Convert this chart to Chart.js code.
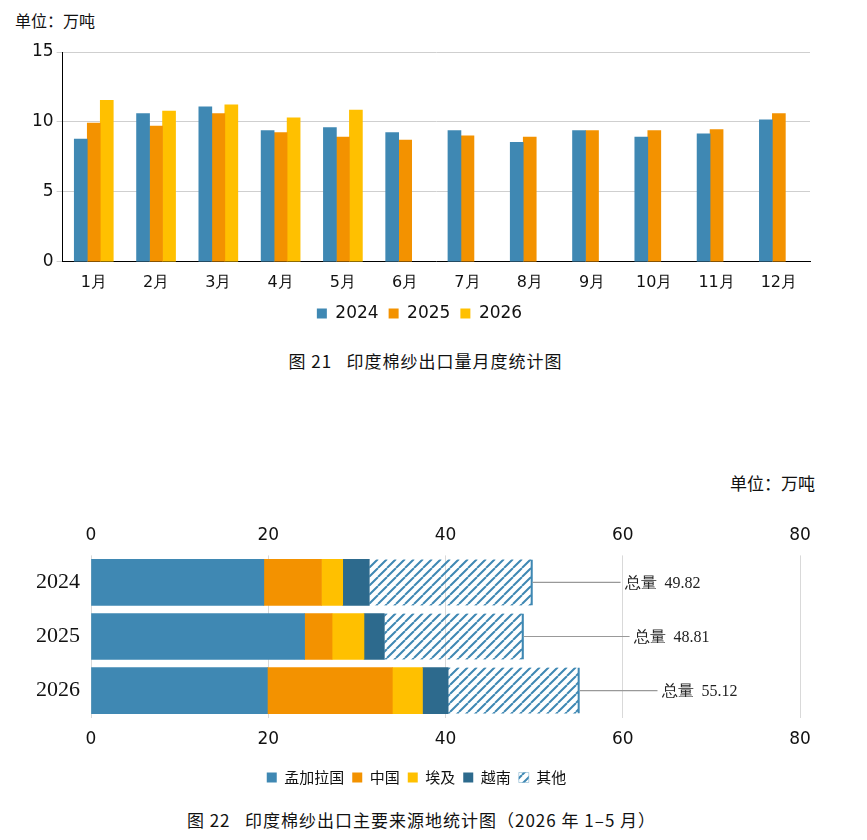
<!DOCTYPE html>
<html><head><meta charset="utf-8">
<script src="https://cdn.jsdelivr.net/npm/chart.js@4/dist/chart.umd.min.js"></script>
<style>
body{margin:0;background:#fff;width:867px;height:840px;position:relative;font-family:"Noto Sans CJK SC","Noto Sans",sans-serif;color:#111}
.abs{position:absolute}
.cap{font-size:17px;letter-spacing:1px;width:867px;text-align:center}
</style></head><body>
<div class="abs" style="left:15px;top:8px;font-size:16px">单位：万吨</div>
<div class="abs" style="left:0;top:20px;width:840px;height:312px"><canvas id="c1"></canvas></div>
<div class="abs cap" style="left:-8px;top:348px">图 21&nbsp;&nbsp;&nbsp;印度棉纱出口量月度统计图</div>
<div class="abs" style="left:730px;top:470px;font-size:17px">单位：万吨</div>
<div class="abs" style="left:0;top:505px;width:840px;height:290px"><canvas id="c2"></canvas></div>
<div class="abs cap" style="left:-12px;top:807px">图 22&nbsp;&nbsp;&nbsp;印度棉纱出口主要来源地统计图（2026 年 1–5 月）</div>
<script>
// monthly exports, 万吨
const months = ['1月','2月','3月','4月','5月','6月','7月','8月','9月','10月','11月','12月'];
const y2024 = [8.77,10.6,11.08,9.38,9.6,9.23,9.38,8.54,9.38,8.92,9.15,10.15];
const y2025 = [9.92,9.7,10.6,9.23,8.92,8.7,9.0,8.92,9.38,9.38,9.46,10.6];
const y2026 = [11.54,10.77,11.23,10.3,10.85,null,null,null,null,null,null,null];

// sources by year
const years = ['2024','2025','2026'];
const bangladesh = [19.5,24.1,19.9];
const china = [6.5,3.1,14.1];
const egypt = [2.4,3.6,3.4];
const vietnam = [3.0,2.3,2.9];
const totals = [49.82,48.81,55.12];
const others = totals.map((t,i)=>+(t-bangladesh[i]-china[i]-egypt[i]-vietnam[i]).toFixed(2));

const BLUE='#3F88B3', ORANGE='#F39200', YELLOW='#FFC000', DARK='#2D6A8D';
const sans = "'DejaVu Sans', sans-serif";

new Chart(document.getElementById('c1'),{
  type:'bar',
  data:{labels:months,datasets:[
    {label:'2024',data:y2024,backgroundColor:BLUE},
    {label:'2025',data:y2025,backgroundColor:ORANGE},
    {label:'2026',data:y2026,backgroundColor:YELLOW}
  ]},
  options:{
    maintainAspectRatio:false,responsive:true,animation:false,
    layout:{padding:{left:29,right:30,top:32}},
    datasets:{bar:{barThickness:13,categoryPercentage:0.8,barPercentage:1}},
    plugins:{legend:{position:'bottom',labels:{boxWidth:10,boxHeight:10,padding:10,color:'#111',font:{family:sans,size:17}}},tooltip:{enabled:false}},
    scales:{
      x:{grid:{display:false,drawTicks:true},border:{color:'#000'},ticks:{color:'#111',font:{family:sans,size:16}}},
      y:{min:0,max:15,ticks:{stepSize:5,color:'#111',font:{family:sans,size:17}},grid:{color:'#cfcfcf',drawTicks:true,tickLength:6},border:{color:'#000'}}
    }
  }
});

const tile=document.createElement('canvas');tile.width=tile.height=9;
const pc=tile.getContext('2d');
pc.strokeStyle=BLUE;pc.lineWidth=2;
pc.beginPath();
for(let k=-9;k<=18;k+=9){pc.moveTo(k,9);pc.lineTo(k+9,0);}
pc.stroke();
const hatch=pc.createPattern(tile,'repeat');

const totalLabels={id:'totalLabels',afterDatasetsDraw(ch){
  const c=ch.ctx,xs=ch.scales.x,meta=ch.getDatasetMeta(0);
  c.save();c.font="16px 'Liberation Serif', serif";c.fillStyle='#222';c.strokeStyle='#999';c.lineWidth=1.2;
  const offs=[92,110,82];
  totals.forEach((t,i)=>{
    const x=xs.getPixelForValue(t),y=meta.data[i].y;
    c.beginPath();c.moveTo(x,y);c.lineTo(x+offs[i]-4,y);c.stroke();
    c.textBaseline='middle';c.fillText('总量  '+t.toFixed(2),x+offs[i],y+1);
  });
  c.restore();
}};

new Chart(document.getElementById('c2'),{
  type:'bar',
  data:{labels:years,datasets:[
    {label:'孟加拉国',data:bangladesh,backgroundColor:BLUE},
    {label:'中国',data:china,backgroundColor:ORANGE},
    {label:'埃及',data:egypt,backgroundColor:YELLOW},
    {label:'越南',data:vietnam,backgroundColor:DARK},
    {label:'其他',data:others,backgroundColor:hatch,borderColor:BLUE,borderWidth:{top:0,bottom:0,left:0,right:1.5}}
  ]},
  options:{
    indexAxis:'y',maintainAspectRatio:false,responsive:true,animation:false,
    layout:{padding:{left:33,right:40,top:10}},
    datasets:{bar:{barThickness:46}},
    plugins:{legend:{position:'bottom',labels:{boxWidth:10,boxHeight:10,padding:8,color:'#111',font:{family:"'Noto Sans CJK SC'",size:15}}},tooltip:{enabled:false}},
    scales:{
      x:{stacked:true,min:0,max:80,position:'bottom',ticks:{stepSize:20,padding:12,color:'#111',font:{family:sans,size:17}},grid:{color:'#d9d9d9',drawTicks:false},border:{display:false}},
      x2:{type:'linear',min:0,max:80,position:'top',ticks:{stepSize:20,padding:10,color:'#111',font:{family:sans,size:17}},grid:{display:false,drawTicks:false},border:{display:false}},
      y:{stacked:true,grid:{display:false},border:{display:false},ticks:{color:'#111',font:{family:"'Liberation Serif', serif",size:22}}}
    }
  },
  plugins:[totalLabels]
});
</script>
</body></html>
